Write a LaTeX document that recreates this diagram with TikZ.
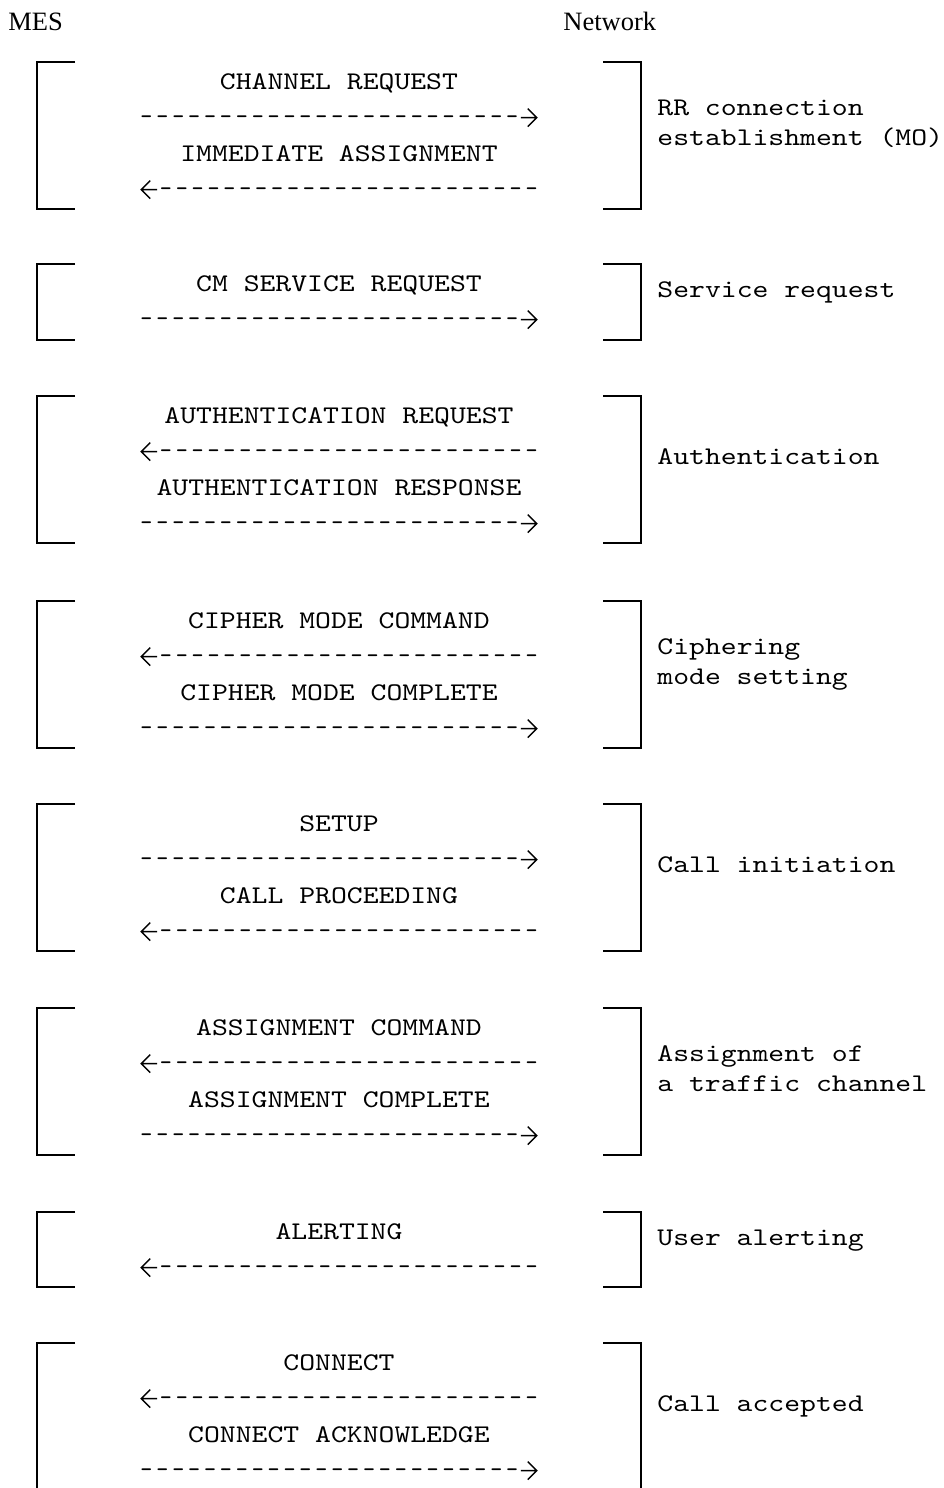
\documentclass[tikz,border=0pt]{standalone}
\usepackage{fontspec}
\setmainfont{Liberation Serif}
\newfontfamily\msgfont{lmmono10-regular.otf}[FakeStretch=1.19]
\newfontfamily\dashfont{lmmono10-regular.otf}

% typed message lines
\newcommand{\dashes}{{\dashfont\foreach \i in {1,...,24}{\makebox[7.95pt]{\scalebox{0.9}[1]{-}}}}}
\newcommand{\rtip}{\tikz[baseline=0pt, x=1pt, y=1pt, line width=0.7pt]
  \draw (1.5,3.2) -- (9.5,3.2) (5,7.7) -- (9.5,3.2) -- (5,-1.3);}
\newcommand{\ltip}{\tikz[baseline=0pt, x=1pt, y=1pt, line width=0.7pt]
  \draw (8,3.2) -- (0,3.2) (4.5,7.7) -- (0,3.2) -- (4.5,-1.3);}
\newcommand{\toright}{\dashes\rtip}
\newcommand{\toleft}{\ltip\dashes}

\begin{document}
\begin{tikzpicture}[x=0.5pt, y=-0.5pt,
    every node/.style={inner sep=0pt, anchor=base},
    msg/.style={font=\msgfont\fontsize{12.7}{15}\selectfont},
    phase/.style={font=\msgfont\fontsize{12.7}{15}\selectfont, anchor=base west, align=left},
    side/.style={font=\fontsize{13.25}{15}\selectfont, anchor=base west},
    brk/.style={line width=1pt}]
        \useasboundingbox (0,0) rectangle (943,1488);

        \node[side] (mes) at (8,31) {MES};
        \node[side] (net) at (563,31) {Network};

        % RR connection
        \draw[brk] (75,62) -- (37,62) -- (37,209) -- (75,209);
        \draw[brk] (603,62) -- (641,62) -- (641,209) -- (603,209);
        \node[msg] (chreq) at (339,89) {CHANNEL REQUEST};
        \node[msg] (chreqarr) at (338,124) {\toright};
        \node[msg] (immass) at (339,161) {IMMEDIATE ASSIGNMENT};
        \node[msg] (immassarr) at (340,196) {\toleft};
        \node[phase] (rrconn) at (657,145) {RR connection\\establishment (MO)};

        % service request
        \draw[brk] (75,264) -- (37,264) -- (37,340) -- (75,340);
        \draw[brk] (603,264) -- (641,264) -- (641,340) -- (603,340);
        \node[msg] (cmserv) at (339,291) {CM SERVICE REQUEST};
        \node[msg] (cmservarr) at (338,326) {\toright};
        \node[phase] (servreq) at (657,297) {Service request};

        % authentication
        \draw[brk] (75,396) -- (37,396) -- (37,543) -- (75,543);
        \draw[brk] (603,396) -- (641,396) -- (641,543) -- (603,543);
        \node[msg] (authreq) at (339,423) {AUTHENTICATION REQUEST};
        \node[msg] (authreqarr) at (340,458) {\toleft};
        \node[msg] (authresp) at (339,495) {AUTHENTICATION RESPONSE};
        \node[msg] (authresparr) at (338,530) {\toright};
        \node[phase] (auth) at (657,464) {Authentication};

        % ciphering
        \draw[brk] (75,601) -- (37,601) -- (37,748) -- (75,748);
        \draw[brk] (603,601) -- (641,601) -- (641,748) -- (603,748);
        \node[msg] (ciphcmd) at (339,628) {CIPHER MODE COMMAND};
        \node[msg] (ciphcmdarr) at (340,663) {\toleft};
        \node[msg] (ciphcpl) at (339,700) {CIPHER MODE COMPLETE};
        \node[msg] (ciphcplarr) at (338,735) {\toright};
        \node[phase] (ciph) at (657,684) {Ciphering\\mode setting};

        % call setup
        \draw[brk] (75,804) -- (37,804) -- (37,951) -- (75,951);
        \draw[brk] (603,804) -- (641,804) -- (641,951) -- (603,951);
        \node[msg] (setup) at (339,831) {SETUP};
        \node[msg] (setuparr) at (338,866) {\toright};
        \node[msg] (callproc) at (339,903) {CALL PROCEEDING};
        \node[msg] (callprocarr) at (340,938) {\toleft};
        \node[phase] (callinit) at (657,872) {Call initiation};

        % traffic channel
        \draw[brk] (75,1008) -- (37,1008) -- (37,1155) -- (75,1155);
        \draw[brk] (603,1008) -- (641,1008) -- (641,1155) -- (603,1155);
        \node[msg] (asscmd) at (339,1035) {ASSIGNMENT COMMAND};
        \node[msg] (asscmdarr) at (340,1070) {\toleft};
        \node[msg] (asscpl) at (339,1107) {ASSIGNMENT COMPLETE};
        \node[msg] (asscplarr) at (338,1142) {\toright};
        \node[phase] (tch) at (657,1091) {Assignment of\\a traffic channel};

        % alerting
        \draw[brk] (75,1212) -- (37,1212) -- (37,1287) -- (75,1287);
        \draw[brk] (603,1212) -- (641,1212) -- (641,1287) -- (603,1287);
        \node[msg] (alert) at (339,1239) {ALERTING};
        \node[msg] (alertarr) at (340,1274) {\toleft};
        \node[phase] (usralert) at (657,1245) {User alerting};

        % connect
        \draw[brk] (75,1343) -- (37,1343) -- (37,1491) -- (75,1491);
        \draw[brk] (603,1343) -- (641,1343) -- (641,1491) -- (603,1491);
        \node[msg] (conn) at (339,1370) {CONNECT};
        \node[msg] (connarr) at (340,1405) {\toleft};
        \node[msg] (connack) at (339,1442) {CONNECT ACKNOWLEDGE};
        \node[msg] (connackarr) at (338,1477) {\toright};
        \node[phase] (callacc) at (657,1411) {Call accepted};
      \end{tikzpicture}
\end{document}
